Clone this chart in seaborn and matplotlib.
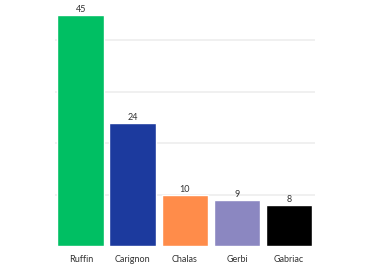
import matplotlib
matplotlib.use("Agg")
import matplotlib.pyplot as plt
import seaborn as sns
import pandas as pd

candidates = ["Ruffin", "Carignon", "Chalas", "Gerbi", "Gabriac"]
votes = [45, 24, 10, 9, 8]
colors = ["#00BF63", "#1C3A9E", "#FF8C4A", "#8B87C1", "#000000"]

sns.set_theme(style="white")
plt.rcParams['font.family'] = ['Lato', 'DejaVu Sans']

df = pd.DataFrame({"candidate": candidates, "votes": votes})

fig = plt.figure(figsize=(3.68, 2.64), dpi=100)
ax = fig.add_axes([0.149, 0.068, 0.707, 0.925])
sns.barplot(data=df, x="candidate", y="votes", hue="candidate", palette=colors,
            width=0.9, saturation=1, legend=False, ax=ax, zorder=2)
ax.set_ylim(0, 47.5)
ax.set_xlim(-0.5, 4.5)
ax.set_yticks([10, 20, 30, 40])
ax.yaxis.grid(True, color="#EEEEEE", linewidth=1.2, zorder=0)
ax.set_axisbelow(True)
ax.tick_params(axis="y", left=False, labelleft=False)
ax.tick_params(axis="x", bottom=False, pad=0.5, labelsize=6.5, colors="#333333")
for s in ax.spines.values():
    s.set_visible(False)
ax.set_xlabel("")
ax.set_ylabel("")
for c in ax.containers:
    ax.bar_label(c, fontsize=6.5, color="#333333", padding=0.5)
fig.savefig("out.png", dpi=100)
